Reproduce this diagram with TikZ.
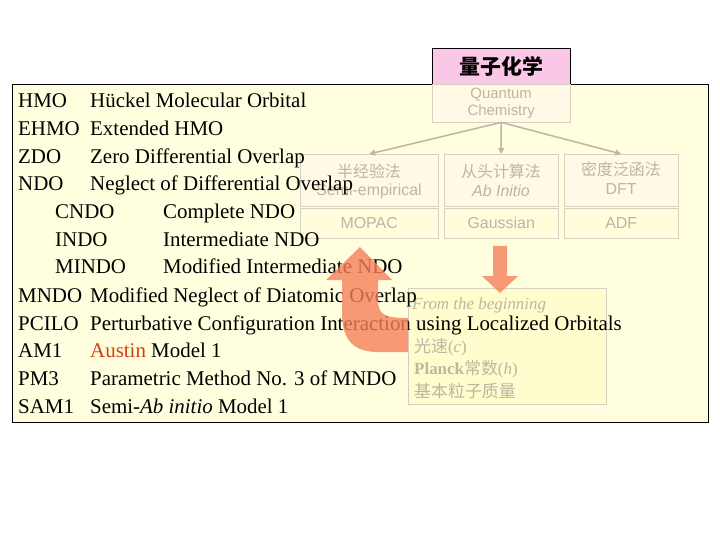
\documentclass[tikz,border=0pt]{standalone}
\usepackage{fontspec}
\setmainfont{Liberation Serif}
\newfontfamily\cjk{Noto Sans CJK SC}
\newfontfamily\hsans{Liberation Sans}
\usetikzlibrary{arrows.meta}
\definecolor{bgy}{HTML}{FFFFE0}
\definecolor{faint}{HTML}{BDB6A0}
\definecolor{fbox}{HTML}{D8CFC0}
\definecolor{orng}{HTML}{F5805A}
\definecolor{austin}{HTML}{D04010}
\tikzset{
  lt/.style={anchor=base west, inner sep=0pt, font=\fontsize{21}{21}\selectfont},
  fbx/.style={draw=fbox, fill=orange!8, fill opacity=0.6, text opacity=1, inner sep=0pt},
  ft/.style={text=faint, font=\hsans\fontsize{16}{16}\selectfont, inner sep=0pt},
  fc/.style={text=faint, font=\cjk\fontsize{16}{16}\selectfont, inner sep=0pt},
  conn/.style={draw=faint, line width=1.5pt, -{Triangle[width=6pt,length=6pt]}}
}
\begin{document}
\begin{tikzpicture}[x=1bp,y=-1bp]
\useasboundingbox (0,0) rectangle (720,540);
\fill[white] (0,0) rectangle (720,540);
\node[draw=black, fill=bgy, minimum width=696bp, minimum height=338bp, anchor=north west, inner sep=0pt, line width=0.8pt] (main) at (12,84) {};
% title
\node[draw=black, fill=magenta!22, minimum width=138bp, minimum height=36bp, anchor=north west, inner sep=0pt, font=\cjk\bfseries\fontsize{21}{21}\selectfont] (title) at (432,48) {量子化学};
\node[fbx, minimum width=138bp, minimum height=38bp, anchor=north west] (qc) at (432,84) {};
\node[ft, align=center, font=\hsans\fontsize{15}{17}\selectfont] at (qc) {Quantum\\Chemistry};
% boxes
\node[fbx, minimum width=138bp, minimum height=52bp, anchor=north west] (semi) at (300,154) {};
\node[fc] at (369,171) {半经验法};
\node[ft] at (369,191) {Semi-empirical};
\node[fbx, minimum width=114bp, minimum height=52bp, anchor=north west] (abi) at (444,154) {};
\node[fc] at (501,171) {从头计算法};
\node[ft] at (501,191) {\itshape Ab Initio};
\node[fbx, minimum width=114bp, minimum height=52bp, anchor=north west] (dft) at (564,154) {};
\node[fc] at (621,169) {密度泛函法};
\node[ft] at (621,189) {DFT};
\node[fbx, fill=yellow!15, minimum width=138bp, minimum height=30bp, anchor=north west] (mopac) at (300,208) {};
\node[ft] at (mopac) {MOPAC};
\node[fbx, fill=yellow!15, minimum width=114bp, minimum height=30bp, anchor=north west] (gau) at (444,208) {};
\node[ft] at (gau) {Gaussian};
\node[fbx, fill=yellow!15, minimum width=114bp, minimum height=30bp, anchor=north west] (adf) at (564,208) {};
\node[ft] at (adf) {ADF};
\draw[conn] (qc.south) -- (semi.north);
\draw[conn] (qc.south) -- (abi.north);
\draw[conn] (qc.south) -- (dft.north);
% from box
\node[draw=fbox, fill=yellow!25, fill opacity=0.55, minimum width=198bp, minimum height=116bp, anchor=north west, inner sep=0pt] (from) at (408,288) {};
\node[anchor=base west, inner sep=0pt, text=faint, font=\itshape\fontsize{17}{17}\selectfont] at (412,309) {From the beginning};
\node[anchor=base west, inner sep=0pt, text=faint, font=\fontsize{17}{17}\selectfont] at (414,352) {{\cjk 光速}(\textit{c})};
\node[anchor=base west, inner sep=0pt, text=faint, font=\fontsize{17}{17}\selectfont] at (414,374) {\textbf{Planck}{\cjk 常数}(\textit{h})};
\node[anchor=base west, inner sep=0pt, text=faint, font=\cjk\fontsize{17}{17}\selectfont] at (414,397) {基本粒子质量};
% left text
\foreach \a/\d/\y/\xa/\xd in {HMO/Hückel Molecular Orbital/108/18/90, EHMO/Extended HMO/136/18/90, ZDO/Zero Differential Overlap/164/18/90, NDO/Neglect of Differential Overlap/191/18/90, CNDO/Complete NDO/219/55/163, INDO/Intermediate NDO/247/55/163, MINDO/Modified Intermediate NDO/274/55/163, MNDO/Modified Neglect of Diatomic Overlap/302/18/90, PCILO/Perturbative Configuration Interaction using Localized Orbitals/330/18/90, PM3/Parametric Method No. 3 of MNDO/385/18/90}
  {\node[lt] (a\a) at (\xa,\y) {\a}; \node[lt] (d\a) at (\xd,\y) {\d};}
\node[lt] (aAM1) at (18,357) {AM1};
\node[lt] (dAM1) at (90,357) {\textcolor{austin}{Austin} Model 1};
\node[lt] (aSAM1) at (18,413) {SAM1};
\node[lt] (dSAM1) at (90,413) {Semi-\textit{Ab initio} Model 1};
% orange arrows
\fill[orng, opacity=0.8] (493,246) -- (507,246) -- (507,276) -- (518,276) -- (500,293) -- (482,276) -- (493,276) -- cycle;
\fill[orng, opacity=0.8] (408,352) -- (378,352) .. controls (345,352) and (342,330) .. (342,310) -- (342,280) -- (326,280) -- (360,247) -- (392,280) -- (378,280) -- (378,300) .. controls (378,315) and (385,318) .. (408,318) -- cycle;
\end{tikzpicture}
\end{document}
